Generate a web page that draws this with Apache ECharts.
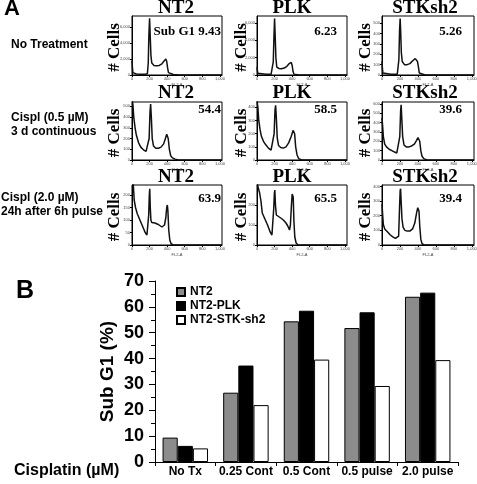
<!DOCTYPE html>
<html><head><meta charset="utf-8">
<script src="https://cdn.jsdelivr.net/npm/echarts@6/dist/echarts.min.js"></script>
<style>html,body{margin:0;padding:0;background:#fff}#c{width:477px;height:484px}</style>
</head><body><div id="c"></div>
<script>
// ---- Panel A data (flow cytometry histograms, FL2-A vs # cells) ----
const colTitles = ['NT2', 'PLK', 'STKsh2'];
const rowLabels = [['No Treatment'], ['Cispl (0.5 \u00b5M)', '3 d continuous'], ['Cispl (2.0 \u00b5M)', '24h after 6h pulse']];
const subG1Labels = [['Sub G1 9.43', '6.23', '5.26'], ['54.4', '58.5', '39.6'], ['63.9', '65.5', '39.4']];
const histYMax = [7400, 6800, 570, 540, 440, 620, 240, 300, 410];
const histYStep = [2000, 2000, 100, 100, 100, 100, 50, 100, 100];
const fl2Ticks = [0, 200, 400, 600, 800, 1000];

const histNT2_noTx = [[0,1800],[5,900],[10,300],[20,150],[50,120],[100,100],[150,100],[175,150],[185,1500],[192,5000],[200,7100],[207,5000],[215,2500],[225,1500],[250,1200],[280,1150],[310,1200],[340,1400],[360,1700],[375,1950],[385,2000],[395,1700],[405,900],[415,300],[430,100],[470,60],[520,20],[560,0],[1024,0]];
const histPLK_noTx = [[0,900],[5,500],[10,200],[30,100],[100,80],[160,80],[175,150],[185,1500],[193,4500],[200,6500],[207,4500],[215,2000],[225,900],[250,750],[280,720],[310,800],[340,1000],[365,1300],[380,1500],[390,1450],[400,1100],[410,400],[420,100],[440,30],[480,0],[1024,0]];
const histSTK_noTx = [[0,130],[5,60],[10,20],[30,10],[100,8],[170,8],[180,20],[188,150],[195,420],[202,545],[208,420],[215,220],[225,130],[250,100],[280,100],[310,110],[330,125],[345,140],[360,150],[370,158],[380,150],[395,130],[405,80],[415,20],[430,5],[480,0],[1024,0]];
const histNT2_c05 = [[0,560],[10,520],[20,400],[35,300],[50,230],[75,160],[100,120],[130,95],[160,80],[180,90],[195,200],[205,450],[212,520],[220,400],[230,200],[245,130],[270,110],[300,110],[330,120],[360,150],[380,200],[395,240],[405,250],[412,200],[425,100],[440,40],[460,20],[490,8],[530,0],[1024,0]];
const histPLK_c05 = [[0,450],[10,400],[20,300],[35,230],[50,180],[75,140],[100,115],[130,90],[160,75],[180,85],[195,200],[205,380],[212,415],[220,320],[230,170],[245,110],[270,95],[300,90],[330,100],[360,130],[390,180],[410,225],[420,238],[428,200],[440,100],[455,40],[475,10],[510,0],[1024,0]];
const histSTK_c05 = [[0,450],[8,350],[15,250],[30,170],[50,140],[80,115],[110,100],[140,85],[165,75],[185,90],[198,250],[207,520],[213,590],[220,450],[230,250],[245,160],[270,140],[300,140],[330,150],[360,170],[385,210],[400,240],[412,245],[420,200],[432,100],[445,40],[465,15],[500,0],[1024,0]];
const histNT2_p20 = [[0,260],[15,240],[25,180],[40,150],[60,125],[90,100],[120,75],[150,50],[170,40],[180,45],[190,120],[197,200],[202,225],[208,150],[215,100],[225,90],[240,95],[260,88],[280,90],[300,82],[320,85],[340,72],[355,70],[370,80],[385,110],[395,150],[402,160],[408,140],[418,60],[430,20],[445,5],[470,0],[1024,0]];
const histPLK_p20 = [[0,310],[20,300],[30,260],[45,220],[60,160],[90,130],[120,100],[150,65],[170,50],[180,60],[190,180],[198,260],[203,275],[210,200],[220,150],[240,140],[270,135],[300,125],[330,110],[350,95],[370,75],[380,100],[392,200],[400,255],[406,265],[412,240],[420,120],[430,40],[445,10],[470,0],[1024,0]];
const histSTK_p20 = [[0,280],[8,200],[15,140],[30,110],[60,90],[90,70],[120,55],[150,45],[170,40],[185,60],[195,250],[202,370],[207,385],[213,300],[222,180],[235,120],[255,100],[280,95],[310,95],[340,110],[365,150],[385,220],[398,255],[405,258],[412,230],[420,130],[432,40],[445,10],[470,0],[1024,0]];
const histograms = [histNT2_noTx, histPLK_noTx, histSTK_noTx, histNT2_c05, histPLK_c05, histSTK_c05, histNT2_p20, histPLK_p20, histSTK_p20];

// ---- Panel B data ----
const categories = ['No Tx', '0.25 Cont', '0.5 Cont', '0.5 pulse', '2.0 pulse'];
const seriesNames = ['NT2', 'NT2-PLK', 'NT2-STK-sh2'];
const nt2 = [9.43, 26.8, 54.4, 51.8, 63.9];
const nt2PLK = [6.23, 37.3, 58.5, 57.9, 65.5];
const nt2STK = [5.26, 22.0, 39.6, 29.4, 39.4];

// ---- layout ----
const SANS = '"Liberation Sans", Arial, sans-serif';
const SERIF = '"Liberation Serif", "Times New Roman", serif';
const colBox = [[132, 222], [257, 347], [382, 474]];
const rowBox = [[16, 75], [102, 160], [185, 245]];
const colTitleX = [176, 292, 425];
const rowTitleY = [8, 93, 177];
const cellsX = [115, 242, 366];
const subX = [221, 337, 462];
const subY = [32, 110, 199];

const grids = [], xAxes = [], yAxes = [], series = [], graphics = [];
function txt(x, y, text, font, align, valign, rot) {
  const g = { type: 'text', x: x, y: y, style: { text: text, font: font, fill: '#000', textAlign: align, align: align, textVerticalAlign: valign, verticalAlign: valign } };
  if (rot) g.rotation = rot;
  return g;
}
for (let r = 0; r < 3; r++) {
  for (let c = 0; c < 3; c++) {
    const i = r * 3 + c;
    const [l, rt] = colBox[c], [t, b] = rowBox[r];
    grids.push({ left: l, top: t, width: rt - l, height: b - t, show: true, borderColor: '#000', borderWidth: 1, backgroundColor: 'transparent', containLabel: false, outerBoundsMode: 'none' });
    xAxes.push({ type: 'value', gridIndex: i, min: 0, max: 1024, interval: 200, name: 'FL2-A', nameLocation: 'middle', nameGap: 8,
      nameTextStyle: { fontSize: 4, color: '#444', fontFamily: SANS },
      axisLine: { lineStyle: { color: '#000', width: 1 } }, axisTick: { length: 2, lineStyle: { color: '#000' } },
      axisLabel: { fontSize: 4, color: '#444', margin: 2, fontFamily: SANS, showMaxLabel: false }, splitLine: { show: false } });
    yAxes.push({ type: 'value', gridIndex: i, min: 0, max: histYMax[i], interval: histYStep[i],
      axisLine: { lineStyle: { color: '#000', width: 1 } }, axisTick: { length: 2, lineStyle: { color: '#000' } },
      axisLabel: { fontSize: 4, color: '#444', margin: 2, fontFamily: SANS, showMaxLabel: false }, splitLine: { show: false } });
    series.push({ type: 'line', xAxisIndex: i, yAxisIndex: i, data: histograms[i], showSymbol: false, symbol: 'none', clip: true,
      lineStyle: { color: '#111', width: 1.5 }, silent: true, animation: false });
    graphics.push(txt(colTitleX[c], rowTitleY[r], colTitles[c], 'bold 19px ' + SERIF, 'center', 'middle'));
    graphics.push(txt(cellsX[c], (t + b) / 2 + 2, '# Cells', 'bold 17px ' + SERIF, 'center', 'middle', Math.PI / 2));
    graphics.push(txt(subX[c], subY[r], subG1Labels[r][c], 'bold 13px ' + SERIF, 'right', 'middle'));
  }
}
// row labels
graphics.push(txt(11, 45, rowLabels[0][0], 'bold 12px ' + SANS, 'left', 'middle'));
graphics.push(txt(11, 118, rowLabels[1][0], 'bold 12px ' + SANS, 'left', 'middle'));
graphics.push(txt(11, 132, rowLabels[1][1], 'bold 12px ' + SANS, 'left', 'middle'));
graphics.push(txt(1, 198, rowLabels[2][0], 'bold 12px ' + SANS, 'left', 'middle'));
graphics.push(txt(1, 212, rowLabels[2][1], 'bold 12px ' + SANS, 'left', 'middle'));
graphics.push(txt(4, 9, 'A', 'bold 22px ' + SANS, 'left', 'middle'));
graphics.push(txt(16, 291, 'B', 'bold 25px ' + SANS, 'left', 'middle'));
graphics.push(txt(14, 471, 'Cisplatin (\u00b5M)', 'bold 16px ' + SANS, 'left', 'middle'));

// bar chart
const gi = 9;
grids.push({ left: 155, top: 281, right: 19, bottom: 22, containLabel: false, outerBoundsMode: 'none' });
xAxes.push({ type: 'category', gridIndex: gi, data: categories,
  axisLine: { lineStyle: { color: '#000', width: 1 } }, axisTick: { show: true, length: 4, lineStyle: { color: '#000' } },
  axisLabel: { fontSize: 12, fontWeight: 'bold', color: '#000', fontFamily: SANS, margin: 4, interval: 0 } });
yAxes.push({ type: 'value', gridIndex: gi, min: 0, max: 70, interval: 10, name: 'Sub G1 (%)', nameLocation: 'middle', nameGap: 38, nameMoveOverlap: false,
  nameTextStyle: { fontSize: 19, fontWeight: 'bold', color: '#000', fontFamily: SANS },
  axisLine: { show: true, lineStyle: { color: '#000', width: 1 } }, axisTick: { show: true, length: 6, lineStyle: { color: '#000' } },
  minorTick: { show: true, splitNumber: 2, length: 4, lineStyle: { color: '#000' } },
  axisLabel: { fontSize: 18, fontWeight: 'bold', color: '#000', fontFamily: SANS, margin: 11 }, splitLine: { show: false } });
const barColors = ['#8c8c8c', '#000000', '#ffffff'];
[nt2, nt2PLK, nt2STK].forEach((d, k) => {
  series.push({ type: 'bar', name: seriesNames[k], xAxisIndex: gi, yAxisIndex: gi, data: d, barGap: '0%', barCategoryGap: '25%',
    itemStyle: { color: barColors[k], borderColor: '#000', borderWidth: 1 }, animation: false });
});

const chart = echarts.init(document.getElementById('c'), null, { renderer: 'canvas' });
chart.setOption({
  animation: false,
  backgroundColor: '#fff',
  grid: grids, xAxis: xAxes, yAxis: yAxes, series: series,
  legend: { data: seriesNames, orient: 'vertical', left: 176, top: 286, padding: 0, itemWidth: 8, itemHeight: 8, itemGap: 2, icon: 'rect',
    textStyle: { fontSize: 12, fontWeight: 'bold', color: '#000', fontFamily: SANS, lineHeight: 11 }, selectedMode: false },
  graphic: graphics
});
</script></body></html>
